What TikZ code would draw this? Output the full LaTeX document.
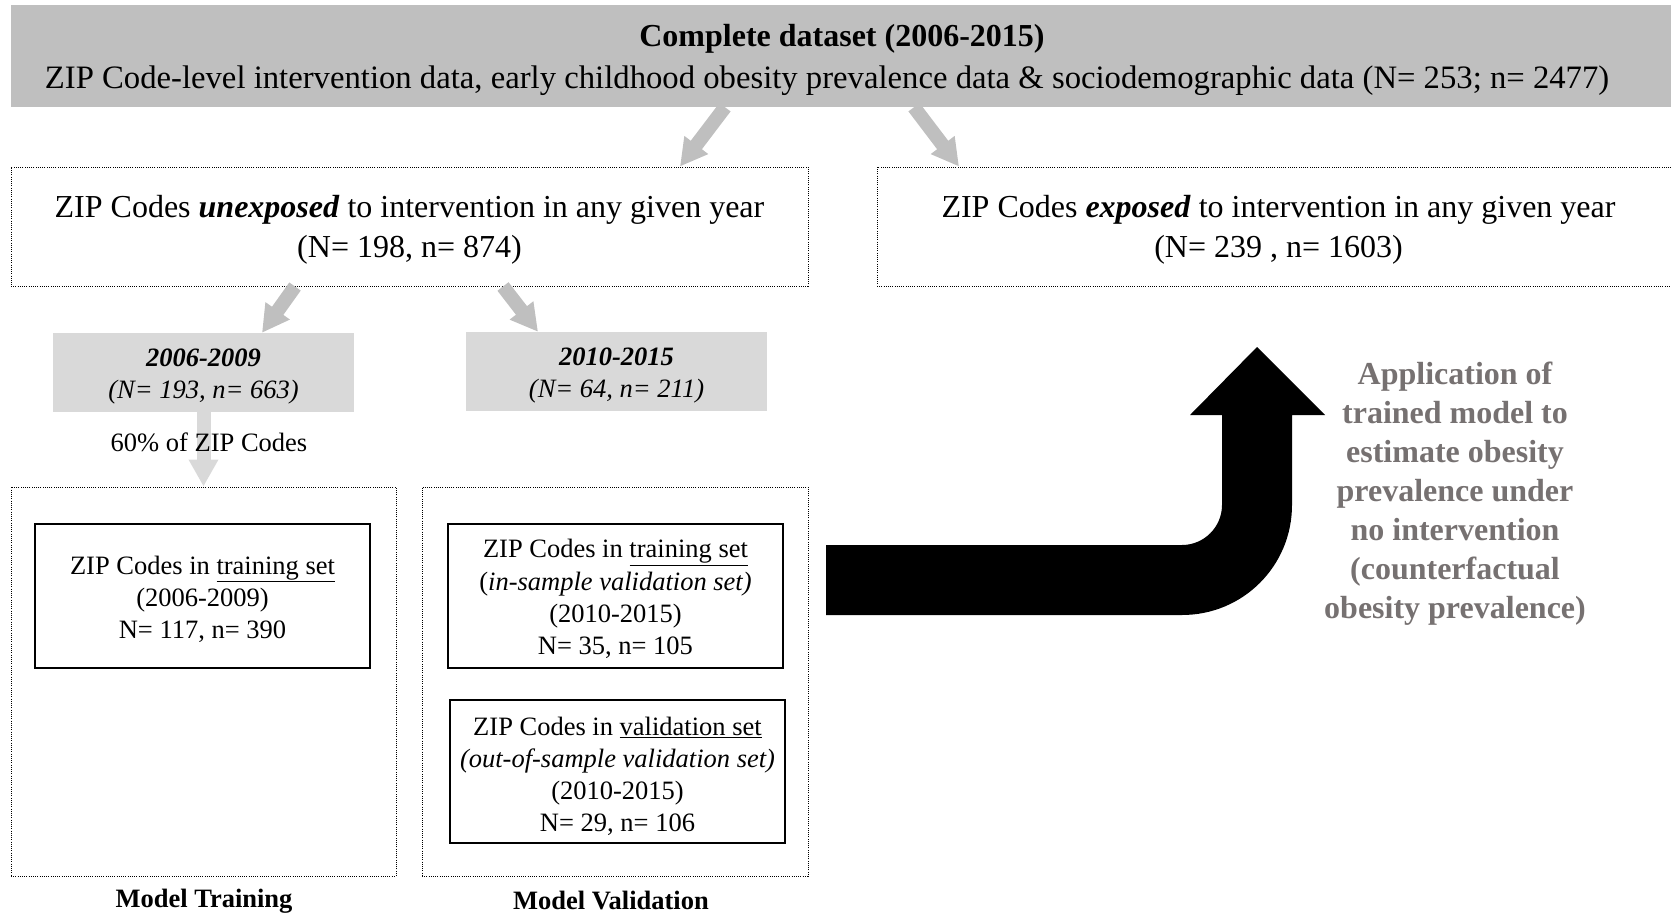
\documentclass[tikz,border=0pt]{standalone}
\usepackage{fontspec}
\setmainfont{Liberation Serif}
\usetikzlibrary{arrows.meta}
\definecolor{hdrgray}{HTML}{BFBFBF}
\definecolor{boxgray}{HTML}{D9D9D9}
\definecolor{txtgray}{HTML}{767171}
\newcommand\tpad{\rule{0pt}{0.93em}}
\begin{document}
\begin{tikzpicture}[x=1pt,y=-1pt,
  hdrbox/.style={fill=hdrgray, inner sep=0pt, align=center, font=\fontsize{32}{42}\selectfont},
  dotbox/.style={draw=black, line width=1pt, dash pattern=on 1pt off 1.2pt, inner sep=0pt, align=center},
  bigtext/.style={font=\fontsize{32}{40}\selectfont},
  graybox/.style={fill=boxgray, inner sep=0pt, align=center, font=\fontsize{26.5}{32}\selectfont\itshape},
  solidbox/.style={draw=black, line width=1.5pt, inner sep=0pt, align=center, font=\fontsize{26.5}{32.2}\selectfont},
  smalltext/.style={inner sep=0pt, align=center, font=\fontsize{26.5}{32}\selectfont},
  boldlabel/.style={inner sep=0pt, align=center, font=\fontsize{26.5}{32}\selectfont\bfseries},
  blockarr/.style={line width=14pt, draw=hdrgray, -{Triangle[width=28pt,length=27pt]}},
  lightarr/.style={line width=14pt, draw=boxgray, -{Triangle[width=28pt,length=27pt]}},
  apptext/.style={inner sep=0pt, align=center, text=txtgray, font=\fontsize{32}{39}\selectfont\bfseries}
]
\useasboundingbox (0,0) rectangle (1671,916);

% header
\node[hdrbox, minimum width=1662pt, minimum height=102pt] (hdr) at (842,56)
  {\tpad\textbf{Complete dataset (2006-2015)}\\{\fontsize{32.7}{42}\selectfont ZIP Code-level intervention data, early childhood obesity prevalence data \& sociodemographic data (N= 253; n= 2477)\hspace*{30pt}}};

% second row
\node[dotbox, bigtext, minimum width=797pt, minimum height=119pt] (unexp) at (409.5,226.5)
  {\tpad ZIP Codes \textbf{\textit{unexposed}} to intervention in any given year\\(N= 198, n= 874)};
\node[dotbox, bigtext, minimum width=803pt, minimum height=119pt] (exp) at (1278.5,226.5)
  {\tpad ZIP Codes \textbf{\textit{exposed}} to intervention in any given year\\(N= 239 , n= 1603)};

% gray period boxes
\node[graybox, minimum width=301pt, minimum height=79pt] (g1) at (203.5,372.5)
  {\tpad\textbf{2006-2009}\\(N= 193, n= 663)};
\node[graybox, minimum width=301pt, minimum height=79pt] (g2) at (616.5,371.5)
  {\tpad\textbf{2010-2015}\\(N= 64, n= 211)};

% dotted frames
\node[dotbox, minimum width=385pt, minimum height=389pt] (train) at (203.5,681.5) {};
\node[dotbox, minimum width=386pt, minimum height=389pt] (valid) at (615,681.5) {};

% inner boxes
\node[solidbox, minimum width=335pt, minimum height=144pt] (tr1) at (202.5,596)
  {\tpad ZIP Codes in \underline{training set}\\(2006-2009)\\N= 117, n= 390};
\node[solidbox, minimum width=335pt, minimum height=144pt] (vs1) at (615.5,596)
  {\tpad ZIP Codes in \underline{training set}\\(\textit{in-sample validation set)}\\(2010-2015)\\N= 35, n= 105};
\node[solidbox, minimum width=335pt, minimum height=143pt] (vs2) at (617.5,771.5)
  {\rule{0pt}{1.05em}ZIP Codes in \underline{validation set}\\\textit{(out-of-sample validation set)}\\(2010-2015)\\N= 29, n= 106};

% labels
\node[boldlabel] (lt) at (204,901) {Model Training};
\node[boldlabel] (lv) at (611,900) {Model Validation};

% gray arrows
\draw[blockarr] ([xshift=-117pt]hdr.south) -- ([xshift=270.5pt]unexp.north);
\draw[blockarr] ([xshift=72pt]hdr.south) -- ([xshift=-319.5pt]exp.north);
\draw[blockarr] ([xshift=-114.5pt]unexp.south) -- ([xshift=58.5pt]g1.north);
\draw[blockarr] ([xshift=93.5pt]unexp.south) -- ([xshift=-78.5pt]g2.north);
\draw[lightarr] (g1.south) -- (train.north);
\node[smalltext] (pct) at (209,442) {60\% of ZIP Codes};

% black bent arrow
\fill[black] (826,545) -- (1182,545) .. controls (1204,545) and (1222,527) .. (1222,505)
  -- (1222,415) -- (1190,415) -- (1257,347) -- (1325,415) -- (1292,415) -- (1292,505)
  .. controls (1292,566) and (1243,615) .. (1182,615) -- (826,615) -- cycle;

% application text
\node[apptext] (app) at (1455,490)
  {\tpad Application of\\trained model to\\estimate obesity\\prevalence under\\no intervention\\(counterfactual\\obesity prevalence)};
\end{tikzpicture}
\end{document}
